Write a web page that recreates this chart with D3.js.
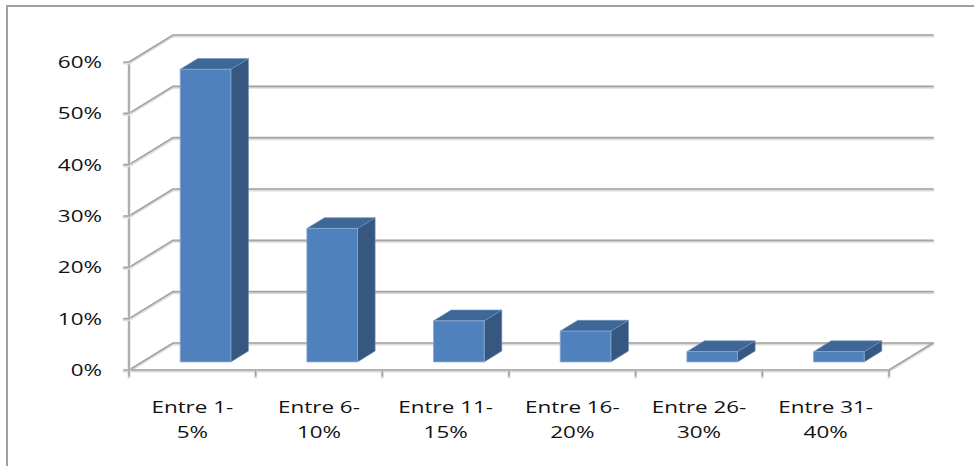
<!DOCTYPE html>
<html>
<head>
<meta charset="utf-8">
<script src="https://cdn.jsdelivr.net/npm/d3@7/dist/d3.min.js"></script>
<style>
  html, body { margin: 0; padding: 0; background: #ffffff; }
  svg { display: block; }
  text { font-family: "Open Sans", "DejaVu Sans", sans-serif; fill: #111; }
</style>
</head>
<body>
<svg id="chart" width="974" height="466"></svg>
<script>
// Share of respondents by range
const categories = ["Entre 1-5%", "Entre 6-10%", "Entre 11-15%", "Entre 16-20%", "Entre 26-30%", "Entre 31-40%"];
const values = [0.57, 0.26, 0.08, 0.06, 0.02, 0.02];
const yTicks = [0, 0.1, 0.2, 0.3, 0.4, 0.5, 0.6];

const svg = d3.select("#chart");
const W = 974, H = 466;

// Plot frame (front plane) and depth offset of the 3D box
const frontLeft = 129, frontRight = 889, frontBottom = 370, frontTop = 62;
const depthX = 44, depthY = 27;
const barZ0 = 0.3, barZ1 = 0.7;  // bar depth within the box
const textStretch = 1.32;

const x = d3.scaleBand().domain(categories).range([frontLeft, frontRight]).padding(0);
const y = d3.scaleLinear().domain([0, 0.6]).range([frontBottom, frontTop]);

// project a point (px on front plane, value, depth fraction z)
const P = (px, v, z) => [px + z * depthX, y(v) - z * depthY];

// Outer chart border
svg.append("rect")
  .attr("x", 7).attr("y", 6)
  .attr("width", W + 20).attr("height", H + 20)
  .attr("fill", "#fff")
  .attr("stroke", "#a0a0a0").attr("stroke-width", 2);

const gridColor = "#a3a3a3";
const grid = svg.append("g").attr("fill", "none").attr("stroke-linecap", "round");

function gline(pts) {
  const d = d3.line()(pts);
  grid.append("path").attr("d", d).attr("stroke", "#dcdcdc").attr("stroke-width", 3).attr("transform", "translate(0,1)");
  grid.append("path").attr("d", d).attr("stroke", gridColor).attr("stroke-width", 1.6);
}

// Back wall and side wall gridlines
yTicks.forEach(v => {
  gline([P(frontLeft, v, 0), P(frontLeft, v, 1), P(frontRight, v, 1)]);
});
// Floor edges
gline([P(frontLeft, 0, 0), P(frontRight, 0, 0), P(frontRight, 0, 1)]);

// Vertical axis with ticks
gline([P(frontLeft, 0, 0), P(frontLeft, 0.6, 0)]);
yTicks.forEach(v => gline([[frontLeft - 5, y(v)], [frontLeft, y(v)]]));

// Category boundary ticks
const boundaries = categories.map(c => x(c)).concat([x(categories[categories.length - 1]) + x.bandwidth()]);
boundaries.forEach(bx => gline([[bx, frontBottom], [bx, frontBottom + 6]]));

// Bars
const barW = x.bandwidth() * 0.4;
const bars = svg.append("g");
categories.forEach((c, i) => {
  const v = values[i];
  const x0 = x(c) + (x.bandwidth() - barW) / 2;
  const x1 = x0 + barW;
  const g = bars.append("g").attr("stroke-linejoin", "round");
  const front = [P(x0, v, barZ0), P(x1, v, barZ0), P(x1, 0, barZ0), P(x0, 0, barZ0)];
  const side = [P(x1, v, barZ0), P(x1, v, barZ1), P(x1, 0, barZ1), P(x1, 0, barZ0)];
  const top = [P(x0, v, barZ0), P(x1, v, barZ0), P(x1, v, barZ1), P(x0, v, barZ1)];
  const poly = pts => "M" + pts.map(p => p.join(",")).join("L") + "Z";
  g.append("path").attr("d", poly(side)).attr("fill", "#36577f").attr("stroke", "#6f8fb8").attr("stroke-width", 0.6);
  g.append("path").attr("d", poly(top)).attr("fill", "#3e6797").attr("stroke", "#7193bd").attr("stroke-width", 0.6);
  g.append("path").attr("d", poly(front)).attr("fill", "#4f81bd").attr("stroke", "#8aa9d2").attr("stroke-width", 0.8);
});

// Y-axis labels
svg.append("g").selectAll("text").data(yTicks).join("text")
  .attr("transform", d => `translate(${frontLeft - 27},${y(d)}) scale(${textStretch},1)`)
  .attr("text-anchor", "end")
  .attr("dy", "0.36em")
  .attr("font-size", 17)
  .text(d3.format(".0%"));

// Category labels (two lines, broken after the hyphen)
const xl = svg.append("g");
categories.forEach(c => {
  const m = c.match(/^(.*-)(.*)$/);
  const cx = x(c) + x.bandwidth() / 2;
  [m[1], m[2]].forEach((line, k) => {
    xl.append("text")
      .attr("transform", `translate(${cx},${413 + k * 25}) scale(${textStretch},1)`)
      .attr("text-anchor", "middle")
      .attr("font-size", 17)
      .text(line);
  });
});
</script>
</body>
</html>
